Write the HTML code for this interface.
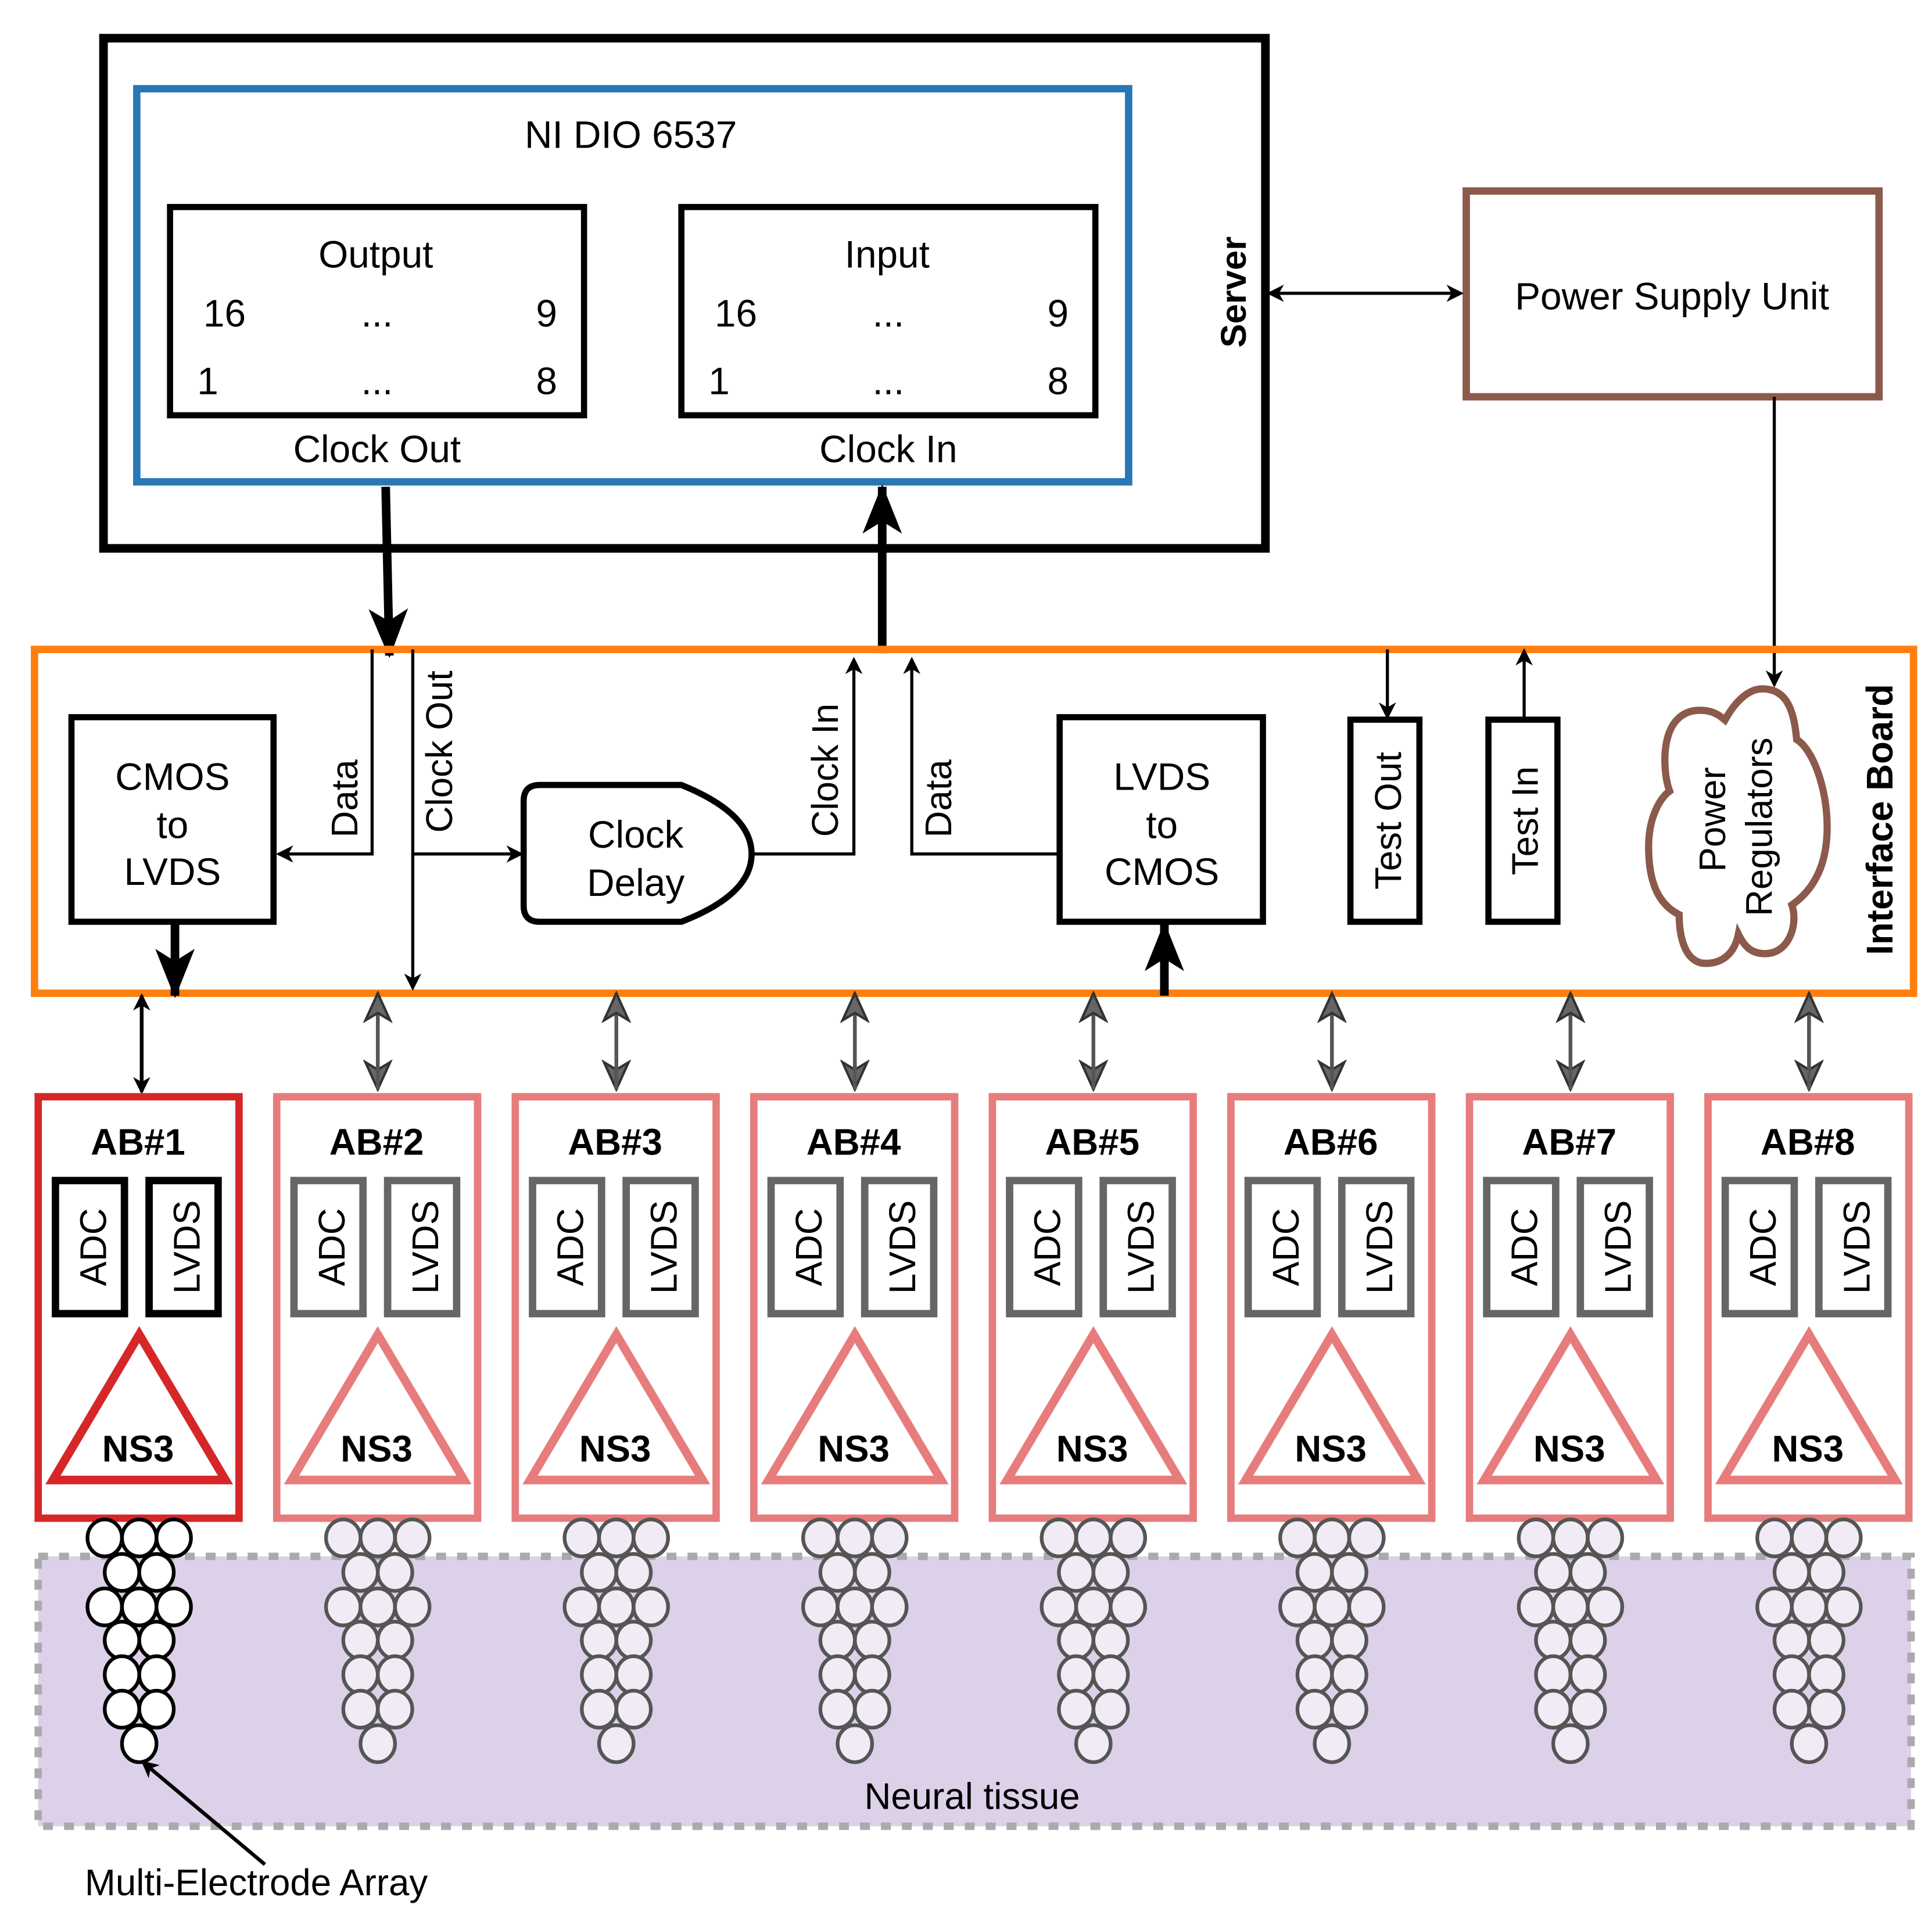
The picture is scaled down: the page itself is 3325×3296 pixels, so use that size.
<!DOCTYPE html>
<html><head><meta charset="utf-8"><style>
html,body{margin:0;padding:0;background:#fff}
svg{display:block}
text{font-family:"Liberation Sans",sans-serif;fill:#000}
</style></head><body>
<svg xmlns="http://www.w3.org/2000/svg" width="3325" height="3296" viewBox="0 0 1568 1554" preserveAspectRatio="none">
<defs>
<marker id="abig" markerWidth="14" markerHeight="14" refX="12" refY="7" orient="auto" markerUnits="userSpaceOnUse" viewBox="0 0 14 14"><path d="M0,0 L14,7 L0,14 L4,7 Z" fill="#000"/></marker>
<marker id="thick" markerWidth="40" markerHeight="40" refX="38" refY="20" orient="auto" markerUnits="userSpaceOnUse" viewBox="0 0 40 40"><path d="M0,4 L40,20 L0,36 L10,20 Z" fill="#000"/></marker>
<marker id="ag" markerWidth="26" markerHeight="26" refX="24" refY="13" orient="auto" markerUnits="userSpaceOnUse" viewBox="0 0 26 26"><path d="M2,3 L24,13 L2,23 L8,13 Z" fill="#666" stroke="#333" stroke-width="2"/></marker>
<g id="el">
<g stroke-width="3">
<ellipse cx="-28" cy="1248" rx="14" ry="15"/><ellipse cx="0" cy="1248" rx="14" ry="15"/><ellipse cx="28" cy="1248" rx="14" ry="15"/>
<ellipse cx="-14" cy="1276" rx="14" ry="15"/><ellipse cx="14" cy="1276" rx="14" ry="15"/>
<ellipse cx="-28" cy="1304" rx="14" ry="15"/><ellipse cx="0" cy="1304" rx="14" ry="15"/><ellipse cx="28" cy="1304" rx="14" ry="15"/>
<ellipse cx="-14" cy="1331" rx="14" ry="15"/><ellipse cx="14" cy="1331" rx="14" ry="15"/>
<ellipse cx="-14" cy="1359" rx="14" ry="15"/><ellipse cx="14" cy="1359" rx="14" ry="15"/>
<ellipse cx="-14" cy="1387" rx="14" ry="15"/><ellipse cx="14" cy="1387" rx="14" ry="15"/>
<ellipse cx="0" cy="1415" rx="14" ry="15"/>
</g></g>
</defs>

<rect x="31" y="1263" width="1520" height="219" fill="#ddd0e9" stroke="#aaa" stroke-width="6" stroke-dasharray="8,9"/>
<text x="789" y="1468" font-size="30" text-anchor="middle">Neural tissue</text>

<rect x="84" y="31" width="943" height="414" fill="none" stroke="#000" stroke-width="7"/>
<rect x="111" y="72" width="805" height="319" fill="none" stroke="#2878b5" stroke-width="6"/>
<text x="512" y="120" font-size="31" text-anchor="middle">NI DIO 6537</text>
<rect x="138" y="168" width="336" height="169" fill="none" stroke="#000" stroke-width="5"/>
<rect x="553" y="168" width="336" height="169" fill="none" stroke="#000" stroke-width="5"/>
<g font-size="31">
<text x="305" y="217" text-anchor="middle">Output</text>
<text x="165" y="265">16</text><text x="306" y="265" text-anchor="middle">...</text><text x="435" y="265">9</text>
<text x="160" y="320">1</text><text x="306" y="320" text-anchor="middle">...</text><text x="435" y="320">8</text>
<text x="720" y="217" text-anchor="middle">Input</text>
<text x="580" y="265">16</text><text x="721" y="265" text-anchor="middle">...</text><text x="850" y="265">9</text>
<text x="575" y="320">1</text><text x="721" y="320" text-anchor="middle">...</text><text x="850" y="320">8</text>
<text x="306" y="375" text-anchor="middle">Clock Out</text>
<text x="721" y="375" text-anchor="middle">Clock In</text>
</g>
<text transform="translate(1011,237) rotate(-90)" font-size="29" font-weight="bold" text-anchor="middle">Server</text>

<rect x="1190" y="155" width="335" height="167" fill="none" stroke="#8b5a4b" stroke-width="6"/>
<text x="1357" y="251" font-size="31" text-anchor="middle">Power Supply Unit</text>
<line x1="1042" y1="238" x2="1186" y2="238" stroke="#000" stroke-width="2.5" marker-end="url(#abig)"/>
<line x1="1176" y1="238" x2="1030" y2="238" stroke="#000" stroke-width="2.5" marker-end="url(#abig)"/>
<line x1="1440" y1="322" x2="1440" y2="556" stroke="#000" stroke-width="2.5" marker-end="url(#abig)"/>

<line x1="313" y1="395" x2="316" y2="532" stroke="#000" stroke-width="7" marker-end="url(#thick)"/>
<line x1="716" y1="530" x2="716" y2="395" stroke="#000" stroke-width="7" marker-end="url(#thick)"/>

<rect x="28" y="527" width="1525" height="279" fill="none" stroke="#ff7f0e" stroke-width="6"/>
<text transform="translate(1536,665) rotate(-90)" font-size="30" font-weight="bold" text-anchor="middle">Interface Board</text>

<rect x="58" y="582" width="164" height="166" fill="none" stroke="#000" stroke-width="5"/>
<g font-size="31" text-anchor="middle">
<text x="140" y="641">CMOS</text><text x="140" y="680">to</text><text x="140" y="718">LVDS</text>
<text x="943" y="641">LVDS</text><text x="943" y="680">to</text><text x="943" y="718">CMOS</text>
<text x="516" y="688">Clock</text><text x="516" y="727">Delay</text>
</g>
<rect x="860" y="582" width="165" height="166" fill="none" stroke="#000" stroke-width="5"/>
<path d="M425,650 Q425,637 438,637 L553,637 Q610,660 610,693 Q610,726 553,748 L438,748 Q425,748 425,735 Z" fill="none" stroke="#000" stroke-width="5"/>

<g fill="none" stroke="#000" stroke-width="2.5">
<polyline points="302,527 302,693 226,693" marker-end="url(#abig)"/>
<line x1="335" y1="527" x2="335" y2="802" marker-end="url(#abig)"/>
<line x1="335" y1="693" x2="423" y2="693" marker-end="url(#abig)"/>
<polyline points="610,693 693,693 693,535" marker-end="url(#abig)"/>
<polyline points="860,693 740,693 740,535" marker-end="url(#abig)"/>
<line x1="1126" y1="527" x2="1126" y2="582" marker-end="url(#abig)"/>
<line x1="1237" y1="584" x2="1237" y2="528" marker-end="url(#abig)"/>
</g>
<g font-size="30">
<text transform="translate(290,648) rotate(-90)" text-anchor="middle">Data</text>
<text transform="translate(367,610) rotate(-90)" text-anchor="middle">Clock Out</text>
<text transform="translate(680,625) rotate(-90)" text-anchor="middle">Clock In</text>
<text transform="translate(772,648) rotate(-90)" text-anchor="middle">Data</text>
</g>
<line x1="142" y1="748" x2="142" y2="808" stroke="#000" stroke-width="7" marker-end="url(#thick)"/>
<line x1="945" y1="808" x2="945" y2="750" stroke="#000" stroke-width="7" marker-end="url(#thick)"/>

<rect x="1096" y="584" width="56" height="164" fill="none" stroke="#000" stroke-width="5"/>
<rect x="1208" y="584" width="56" height="164" fill="none" stroke="#000" stroke-width="5"/>
<text transform="translate(1137,666) rotate(-90)" font-size="30" text-anchor="middle">Test Out</text>
<text transform="translate(1248,666) rotate(-90)" font-size="30" text-anchor="middle">Test In</text>

<g transform="translate(1338,559) scale(0.775,0.79) translate(-1318,-554)">
<path d="M1437,558 C1460,558 1470,575 1473,610 C1490,620 1505,660 1505,700 C1505,740 1490,765 1468,780 C1475,800 1465,830 1440,830 C1425,830 1418,822 1412,810 C1408,830 1395,840 1378,840 C1355,840 1350,810 1350,790 C1330,780 1318,760 1318,720 C1318,690 1330,670 1340,663 C1335,650 1334,630 1336,617 C1340,590 1355,580 1372,580 C1385,580 1392,585 1398,590 C1408,572 1422,558 1437,558 Z" fill="#fff" stroke="#8b5a4b" stroke-width="7.5" transform="translate(0,-4)"/>
</g>
<g font-size="30" text-anchor="middle">
<text transform="translate(1400,665) rotate(-90)">Power</text>
<text transform="translate(1438,671) rotate(-90)">Regulators</text>
</g>

<line x1="115" y1="810" x2="115" y2="886" stroke="#000" stroke-width="3" marker-end="url(#abig)"/>
<line x1="115" y1="886" x2="115" y2="808" stroke="#000" stroke-width="3" marker-end="url(#abig)"/>
<rect x="31" y="890" width="163" height="342" fill="none" stroke="#d62728" stroke-width="6"/>
<text x="112" y="937" font-size="30" font-weight="bold" text-anchor="middle">AB#1</text>
<rect x="45" y="958" width="56" height="108" fill="none" stroke="#000" stroke-width="6"/>
<rect x="121" y="958" width="56" height="108" fill="none" stroke="#000" stroke-width="6"/>
<text transform="translate(86,1012) rotate(-90)" font-size="30" text-anchor="middle">ADC</text>
<text transform="translate(162,1012) rotate(-90)" font-size="30" text-anchor="middle">LVDS</text>
<polygon points="113,1083 43,1201 183,1201" fill="none" stroke="#d62728" stroke-width="7"/>
<text x="112" y="1186" font-size="30" font-weight="bold" text-anchor="middle">NS3</text>
<use href="#el" x="113" y="0" fill="#fff" stroke="#000"/>

<g transform="translate(193.6,0)">
<line x1="113" y1="812" x2="113" y2="884" stroke="#555" stroke-width="3" marker-end="url(#ag)"/><line x1="113" y1="884" x2="113" y2="806" stroke="#555" stroke-width="3" marker-end="url(#ag)"/>
<rect x="31" y="890" width="163" height="342" fill="none" stroke="#e77c7c" stroke-width="6"/>
<text x="112" y="937" font-size="30" font-weight="bold" text-anchor="middle">AB#2</text>
<rect x="45" y="958" width="56" height="108" fill="none" stroke="#666" stroke-width="6"/><rect x="121" y="958" width="56" height="108" fill="none" stroke="#666" stroke-width="6"/>
<text transform="translate(86,1012) rotate(-90)" font-size="30" text-anchor="middle">ADC</text><text transform="translate(162,1012) rotate(-90)" font-size="30" text-anchor="middle">LVDS</text>
<polygon points="113,1083 43,1201 183,1201" fill="none" stroke="#e77c7c" stroke-width="7"/>
<text x="112" y="1186" font-size="30" font-weight="bold" text-anchor="middle">NS3</text>
<use href="#el" x="113" y="0" fill="#f0ebf5" stroke="#555"/>
</g>
<g transform="translate(387.2,0)">
<line x1="113" y1="812" x2="113" y2="884" stroke="#555" stroke-width="3" marker-end="url(#ag)"/><line x1="113" y1="884" x2="113" y2="806" stroke="#555" stroke-width="3" marker-end="url(#ag)"/>
<rect x="31" y="890" width="163" height="342" fill="none" stroke="#e77c7c" stroke-width="6"/>
<text x="112" y="937" font-size="30" font-weight="bold" text-anchor="middle">AB#3</text>
<rect x="45" y="958" width="56" height="108" fill="none" stroke="#666" stroke-width="6"/><rect x="121" y="958" width="56" height="108" fill="none" stroke="#666" stroke-width="6"/>
<text transform="translate(86,1012) rotate(-90)" font-size="30" text-anchor="middle">ADC</text><text transform="translate(162,1012) rotate(-90)" font-size="30" text-anchor="middle">LVDS</text>
<polygon points="113,1083 43,1201 183,1201" fill="none" stroke="#e77c7c" stroke-width="7"/>
<text x="112" y="1186" font-size="30" font-weight="bold" text-anchor="middle">NS3</text>
<use href="#el" x="113" y="0" fill="#f0ebf5" stroke="#555"/>
</g>
<g transform="translate(580.8,0)">
<line x1="113" y1="812" x2="113" y2="884" stroke="#555" stroke-width="3" marker-end="url(#ag)"/><line x1="113" y1="884" x2="113" y2="806" stroke="#555" stroke-width="3" marker-end="url(#ag)"/>
<rect x="31" y="890" width="163" height="342" fill="none" stroke="#e77c7c" stroke-width="6"/>
<text x="112" y="937" font-size="30" font-weight="bold" text-anchor="middle">AB#4</text>
<rect x="45" y="958" width="56" height="108" fill="none" stroke="#666" stroke-width="6"/><rect x="121" y="958" width="56" height="108" fill="none" stroke="#666" stroke-width="6"/>
<text transform="translate(86,1012) rotate(-90)" font-size="30" text-anchor="middle">ADC</text><text transform="translate(162,1012) rotate(-90)" font-size="30" text-anchor="middle">LVDS</text>
<polygon points="113,1083 43,1201 183,1201" fill="none" stroke="#e77c7c" stroke-width="7"/>
<text x="112" y="1186" font-size="30" font-weight="bold" text-anchor="middle">NS3</text>
<use href="#el" x="113" y="0" fill="#f0ebf5" stroke="#555"/>
</g>
<g transform="translate(774.4,0)">
<line x1="113" y1="812" x2="113" y2="884" stroke="#555" stroke-width="3" marker-end="url(#ag)"/><line x1="113" y1="884" x2="113" y2="806" stroke="#555" stroke-width="3" marker-end="url(#ag)"/>
<rect x="31" y="890" width="163" height="342" fill="none" stroke="#e77c7c" stroke-width="6"/>
<text x="112" y="937" font-size="30" font-weight="bold" text-anchor="middle">AB#5</text>
<rect x="45" y="958" width="56" height="108" fill="none" stroke="#666" stroke-width="6"/><rect x="121" y="958" width="56" height="108" fill="none" stroke="#666" stroke-width="6"/>
<text transform="translate(86,1012) rotate(-90)" font-size="30" text-anchor="middle">ADC</text><text transform="translate(162,1012) rotate(-90)" font-size="30" text-anchor="middle">LVDS</text>
<polygon points="113,1083 43,1201 183,1201" fill="none" stroke="#e77c7c" stroke-width="7"/>
<text x="112" y="1186" font-size="30" font-weight="bold" text-anchor="middle">NS3</text>
<use href="#el" x="113" y="0" fill="#f0ebf5" stroke="#555"/>
</g>
<g transform="translate(968,0)">
<line x1="113" y1="812" x2="113" y2="884" stroke="#555" stroke-width="3" marker-end="url(#ag)"/><line x1="113" y1="884" x2="113" y2="806" stroke="#555" stroke-width="3" marker-end="url(#ag)"/>
<rect x="31" y="890" width="163" height="342" fill="none" stroke="#e77c7c" stroke-width="6"/>
<text x="112" y="937" font-size="30" font-weight="bold" text-anchor="middle">AB#6</text>
<rect x="45" y="958" width="56" height="108" fill="none" stroke="#666" stroke-width="6"/><rect x="121" y="958" width="56" height="108" fill="none" stroke="#666" stroke-width="6"/>
<text transform="translate(86,1012) rotate(-90)" font-size="30" text-anchor="middle">ADC</text><text transform="translate(162,1012) rotate(-90)" font-size="30" text-anchor="middle">LVDS</text>
<polygon points="113,1083 43,1201 183,1201" fill="none" stroke="#e77c7c" stroke-width="7"/>
<text x="112" y="1186" font-size="30" font-weight="bold" text-anchor="middle">NS3</text>
<use href="#el" x="113" y="0" fill="#f0ebf5" stroke="#555"/>
</g>
<g transform="translate(1161.6,0)">
<line x1="113" y1="812" x2="113" y2="884" stroke="#555" stroke-width="3" marker-end="url(#ag)"/><line x1="113" y1="884" x2="113" y2="806" stroke="#555" stroke-width="3" marker-end="url(#ag)"/>
<rect x="31" y="890" width="163" height="342" fill="none" stroke="#e77c7c" stroke-width="6"/>
<text x="112" y="937" font-size="30" font-weight="bold" text-anchor="middle">AB#7</text>
<rect x="45" y="958" width="56" height="108" fill="none" stroke="#666" stroke-width="6"/><rect x="121" y="958" width="56" height="108" fill="none" stroke="#666" stroke-width="6"/>
<text transform="translate(86,1012) rotate(-90)" font-size="30" text-anchor="middle">ADC</text><text transform="translate(162,1012) rotate(-90)" font-size="30" text-anchor="middle">LVDS</text>
<polygon points="113,1083 43,1201 183,1201" fill="none" stroke="#e77c7c" stroke-width="7"/>
<text x="112" y="1186" font-size="30" font-weight="bold" text-anchor="middle">NS3</text>
<use href="#el" x="113" y="0" fill="#f0ebf5" stroke="#555"/>
</g>
<g transform="translate(1355.2,0)">
<line x1="113" y1="812" x2="113" y2="884" stroke="#555" stroke-width="3" marker-end="url(#ag)"/><line x1="113" y1="884" x2="113" y2="806" stroke="#555" stroke-width="3" marker-end="url(#ag)"/>
<rect x="31" y="890" width="163" height="342" fill="none" stroke="#e77c7c" stroke-width="6"/>
<text x="112" y="937" font-size="30" font-weight="bold" text-anchor="middle">AB#8</text>
<rect x="45" y="958" width="56" height="108" fill="none" stroke="#666" stroke-width="6"/><rect x="121" y="958" width="56" height="108" fill="none" stroke="#666" stroke-width="6"/>
<text transform="translate(86,1012) rotate(-90)" font-size="30" text-anchor="middle">ADC</text><text transform="translate(162,1012) rotate(-90)" font-size="30" text-anchor="middle">LVDS</text>
<polygon points="113,1083 43,1201 183,1201" fill="none" stroke="#e77c7c" stroke-width="7"/>
<text x="112" y="1186" font-size="30" font-weight="bold" text-anchor="middle">NS3</text>
<use href="#el" x="113" y="0" fill="#f0ebf5" stroke="#555"/>
</g>

<line x1="215" y1="1513" x2="116" y2="1430" stroke="#000" stroke-width="3" marker-end="url(#abig)"/>
<text x="208" y="1538" font-size="30" text-anchor="middle">Multi-Electrode Array</text>
</svg>
</body></html>
